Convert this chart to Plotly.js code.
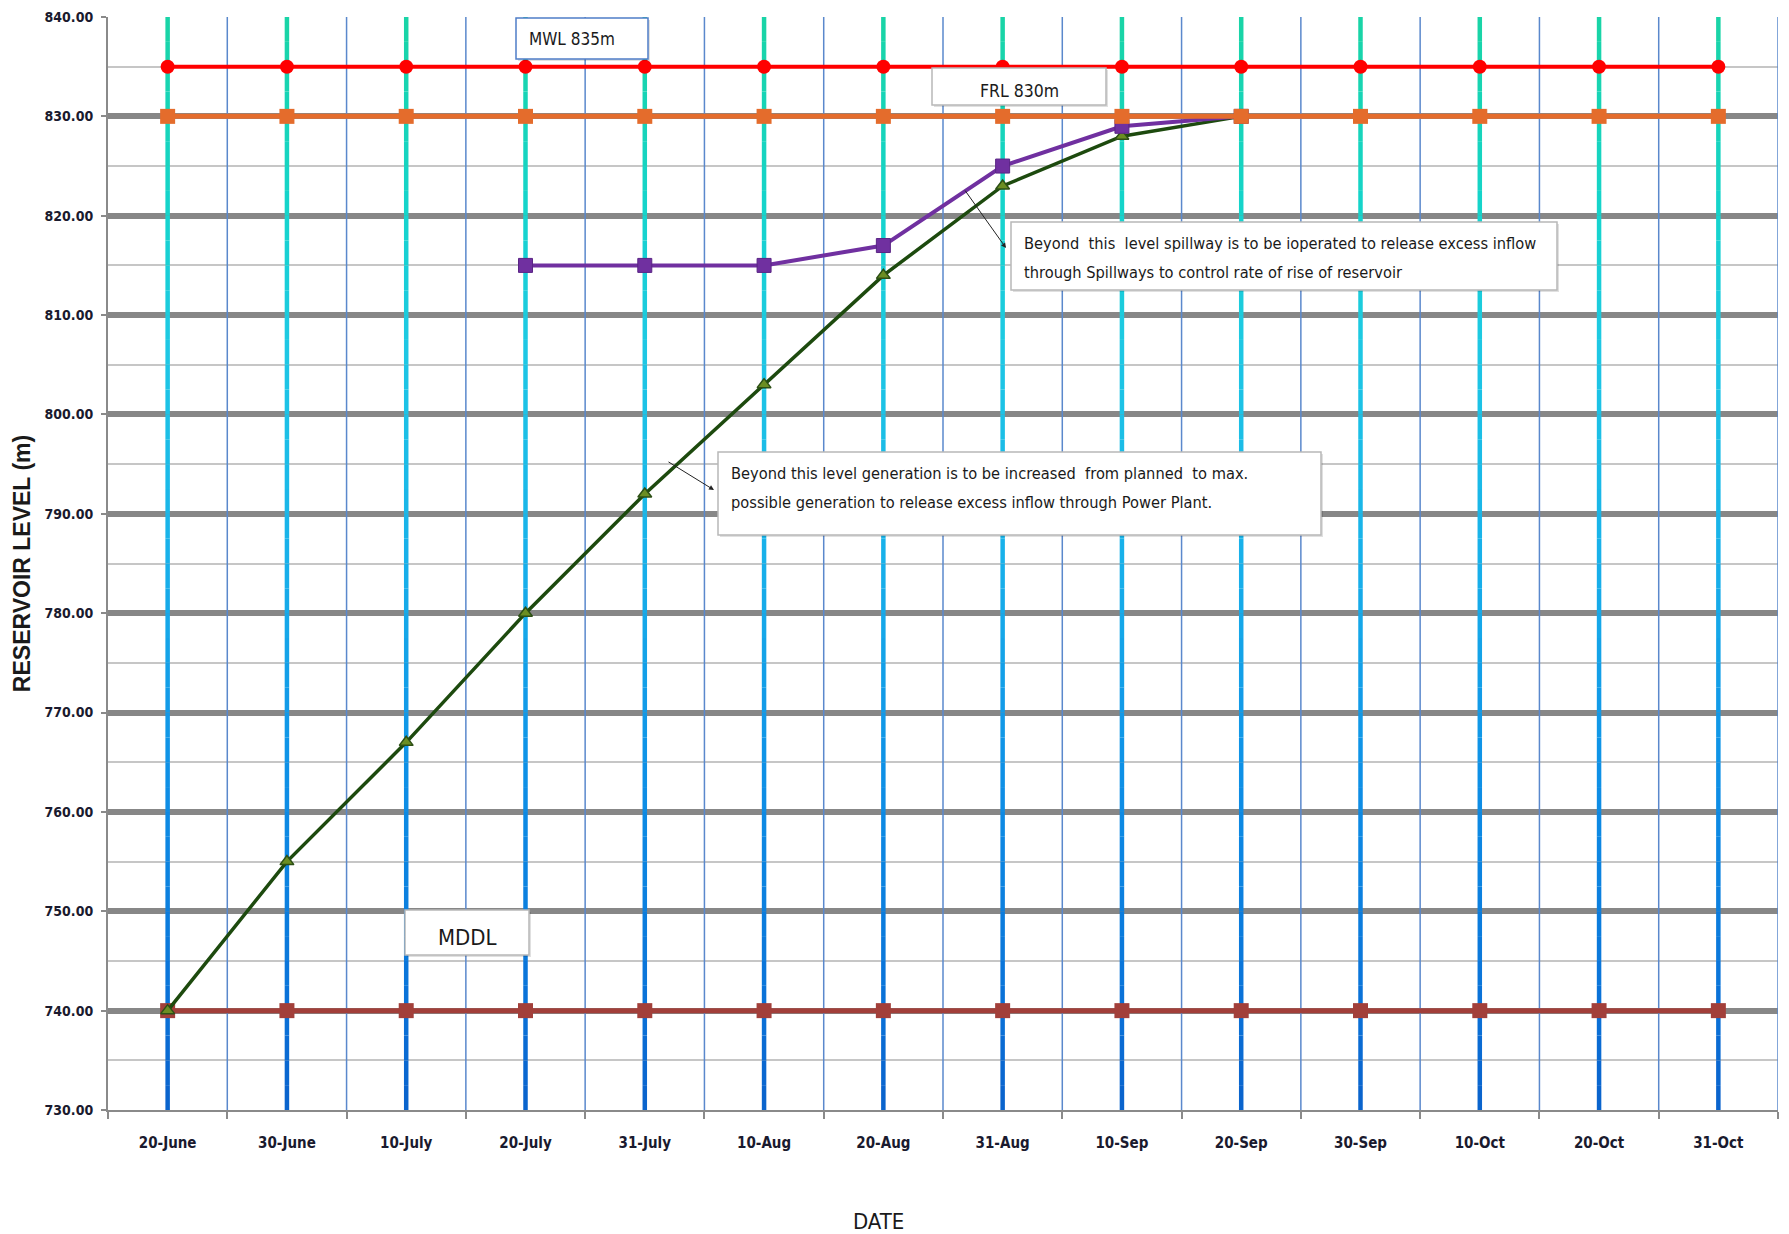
<!DOCTYPE html>
<html>
<head>
<meta charset="utf-8">
<script src="https://cdn.plot.ly/plotly-3.0.1.min.js"></script>
<style>html,body{margin:0;padding:0;background:#fff;}#chart{width:1789px;height:1234px;}</style>
</head>
<body>
<div id="chart"></div>
<script>
// ---- data ----
const categories = ['20-June','30-June','10-July','20-July','31-July','10-Aug','20-Aug','31-Aug','10-Sep','20-Sep','30-Sep','10-Oct','20-Oct','31-Oct'];
const mwlValues  = [835,835,835,835,835,835,835,835,835,835,835,835,835,835];
const frlValues  = [830,830,830,830,830,830,830,830,830,830,830,830,830,830];
const mddlValues = [740,740,740,740,740,740,740,740,740,740,740,740,740,740];
const fillDates  = ['20-June','30-June','10-July','20-July','31-July','10-Aug','20-Aug','31-Aug','10-Sep','20-Sep'];
const fillValues = [740,755,767,780,792,803,814,823,828,830];
const spillDates  = ['20-July','31-July','10-Aug','20-Aug','31-Aug','10-Sep','20-Sep'];
const spillValues = [815,815,815,817,825,829,830];
const yTickLabels = ['730.00','740.00','750.00','760.00','770.00','780.00','790.00','800.00','810.00','820.00','830.00','840.00'];
const yTickVals   = [730,740,750,760,770,780,790,800,810,820,830,840];

// ---- styling helpers ----
const FONT = 'DejaVu Sans Condensed, Liberation Sans Narrow, sans-serif';
const YMIN = 730, YMAX = 840;
const PL = 108, PR = 1778, PT = 17, PB = 1110;
const px = x => (x - PL) / (PR - PL);
const py = y => (PB - y) / (PB - PT);

const stops = [
  [0.00, [10, 98, 204]],
  [0.10, [10, 114, 216]],
  [0.30, [14, 143, 230]],
  [0.50, [24, 176, 234]],
  [0.70, [30, 200, 228]],
  [0.82, [21, 212, 204]],
  [1.00, [25, 212, 164]]
];
function gradColor(t) {
  for (let i = 1; i < stops.length; i++) {
    if (t <= stops[i][0]) {
      const a = stops[i-1], b = stops[i];
      const f = (t - a[0]) / (b[0] - a[0]);
      const c = a[1].map((v, k) => Math.round(v + (b[1][k] - v) * f));
      return 'rgb(' + c.join(',') + ')';
    }
  }
  return 'rgb(25,212,164)';
}

const shapes = [];
// thin boundary lines
for (let i = 0; i < categories.length; i++) {
  shapes.push({type:'line', layer:'between', xref:'x', yref:'y', x0:i+0.5, x1:i+0.5, y0:YMIN, y1:YMAX,
    line:{color:'#5a88cc', width:1.5}});
}
// thick gradient lines at categories
const seg = 2.5;
for (let i = 0; i < categories.length; i++) {
  for (let v = YMIN; v < YMAX; v += seg) {
    const t = (v + seg/2 - YMIN) / (YMAX - YMIN);
    shapes.push({type:'line', layer:'between', xref:'x', yref:'y', x0:i, x1:i, y0:v, y1:v+seg,
      line:{color:gradColor(t), width:4.5}});
  }
}
// text boxes
function box(x0, y0, x1, y1, border) {
  shapes.push({type:'rect', layer:'above', xref:'paper', yref:'paper',
    x0:px(x0+2), x1:px(x1+2), y0:py(y1+2), y1:py(y0+2), fillcolor:'rgba(0,0,0,0.12)', line:{width:0}});
  shapes.push({type:'rect', layer:'above', xref:'paper', yref:'paper',
    x0:px(x0), x1:px(x1), y0:py(y1), y1:py(y0), fillcolor:'#ffffff', line:{color:border, width:1.5}});
}
box(516, 18, 648, 59, '#4f7ec8');
box(932, 68, 1106, 105, '#b8b8b8');
box(1011, 222, 1557, 290, '#b8b8b8');
box(718, 452, 1321, 535, '#b8b8b8');
box(405, 910, 529, 955, '#b8b8b8');

function label(text, x, y, size, anchor) {
  return {text:text, xref:'paper', yref:'paper', x:px(x), y:py(y), xanchor:anchor||'left', yanchor:'middle',
    showarrow:false, font:{family:FONT, size:size, color:'#1a1a1a'}, borderpad:0};
}
const annotations = [
  label('MWL 835m', 528, 39, 17),
  label('FRL 830m', 1019, 91, 17.5, 'center'),
  label('Beyond  this  level spillway is to be ioperated to release excess inflow', 1023, 244, 16.3),
  label('through Spillways to control rate of rise of reservoir', 1023, 272, 16.3),
  label('Beyond this level generation is to be increased  from planned  to max.', 730, 473, 16.3),
  label('possible generation to release excess inflow through Power Plant.', 730, 502, 16.3),
  label('MDDL', 467, 937, 22, 'center'),
  {text:'DATE', xref:'paper', yref:'paper', x:px(878), y:py(1221), xanchor:'center', yanchor:'middle',
    showarrow:false, font:{family:FONT, size:22, color:'#1a1a1a'}},
  {xref:'paper', yref:'paper', x:px(1006), y:py(248), ax:-42, ay:-59, text:'', showarrow:true,
    arrowhead:2, arrowsize:1, arrowwidth:1, arrowcolor:'#222'},
  {xref:'paper', yref:'paper', x:px(714), y:py(490), ax:-47, ay:-29, text:'', showarrow:true,
    arrowhead:2, arrowsize:1, arrowwidth:1, arrowcolor:'#222'}
];

const traces = [
  {x:categories, y:mddlValues, type:'scatter', mode:'lines+markers', name:'MDDL',
    line:{color:'#a23f3a', width:5}, marker:{symbol:'square', size:15, color:'#a23f3a'}},
  {x:fillDates, y:fillValues, type:'scatter', mode:'lines+markers', name:'Filling',
    line:{color:'#1d4a0e', width:3.5}, marker:{symbol:'triangle-up', size:12, color:'#6b8e23', line:{color:'#2d5016', width:1.5}}},
  {x:spillDates, y:spillValues, type:'scatter', mode:'lines+markers', name:'Spill',
    line:{color:'#7030a0', width:4}, marker:{symbol:'square', size:14, color:'#7030a0', line:{color:'#5a2585', width:1}}},
  {x:categories, y:frlValues, type:'scatter', mode:'lines+markers', name:'FRL',
    line:{color:'#e46c2c', width:5}, marker:{symbol:'square', size:15, color:'#e46c2c'}},
  {x:categories, y:mwlValues, type:'scatter', mode:'lines+markers', name:'MWL',
    line:{color:'#ff0000', width:4}, marker:{symbol:'circle', size:14, color:'#ff0000'}}
];

const layout = {
  width:1789, height:1234,
  margin:{l:PL, r:1789-PR, t:PT, b:1234-PB, pad:0},
  paper_bgcolor:'#ffffff', plot_bgcolor:'#ffffff',
  showlegend:false, hovermode:false,
  xaxis:{type:'category', categoryorder:'array', categoryarray:categories, range:[-0.5, categories.length-0.5],
    tickson:'boundaries', ticks:'outside', ticklen:7, tickwidth:2, tickcolor:'#8a8a8a',
    showgrid:false, showline:true, linecolor:'#8a8a8a', linewidth:2, zeroline:false,
    ticklabelstandoff:18,
    tickfont:{family:FONT, size:15, color:'#1a1a2e', weight:'bold'}},
  yaxis:{range:[YMIN, YMAX], tickvals:yTickVals, ticktext:yTickLabels,
    ticks:'outside', ticklen:5, tickwidth:2, tickcolor:'#8a8a8a',
    showgrid:true, gridcolor:'#878787', gridwidth:6,
    minor:{dtick:5, showgrid:true, gridcolor:'#c6c6c6', gridwidth:2, ticks:''},
    showline:true, linecolor:'#8a8a8a', linewidth:2, zeroline:false,
    ticklabelstandoff:5,
    tickfont:{family:FONT, size:14, color:'#1a1a2e', weight:'bold'},
    title:{text:'RESERVOIR LEVEL (m)', standoff:8, font:{family:'Liberation Sans, Arial, sans-serif', size:23, color:'#1a1a1a', weight:'bold'}}},
  shapes:shapes,
  annotations:annotations
};

Plotly.newPlot('chart', traces, layout, {staticPlot:true, displayModeBar:false});
</script>
</body>
</html>
